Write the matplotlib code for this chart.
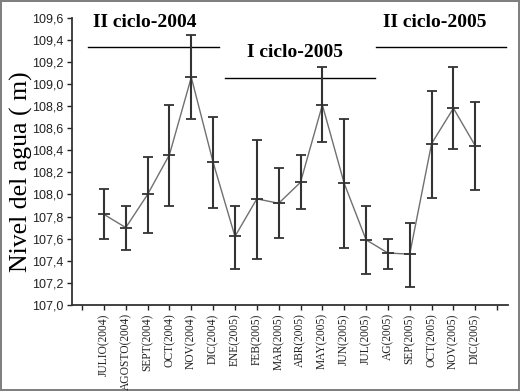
import matplotlib
matplotlib.use("Agg")
import matplotlib.pyplot as plt
import numpy as np

months = ["JULIO(2004)", "AGOSTO(2004)", "SEPT(2004)", "OCT(2004)", "NOV(2004)", "DIC(2004)",
          "ENE(2005)", "FEB(2005)", "MAR(2005)", "ABR(2005)", "MAY(2005)", "JUN(2005)",
          "JUL(2005)", "AG(2005)", "SEP(2005)", "OCT(2005)", "NOV(2005)", "DIC(2005)"]
mean = [107.82, 107.70, 108.00, 108.36, 109.06, 108.29,
        107.62, 107.96, 107.92, 108.11, 108.81, 108.10,
        107.59, 107.47, 107.46, 108.46, 108.78, 108.44]
upper = [108.05, 107.90, 108.34, 108.81, 109.44, 108.70,
         107.90, 108.49, 108.24, 108.36, 109.15, 108.68,
         107.90, 107.60, 107.74, 108.94, 109.15, 108.84]
lower = [107.60, 107.50, 107.65, 107.90, 108.68, 107.88,
         107.33, 107.42, 107.61, 107.87, 108.47, 107.52,
         107.28, 107.33, 107.16, 107.97, 108.41, 108.04]
cycles = ["II ciclo-2004", "I ciclo-2005", "II ciclo-2005"]
yticks = [107.0, 107.2, 107.4, 107.6, 107.8, 108.0, 108.2, 108.4, 108.6, 108.8,
          109.0, 109.2, 109.4, 109.6]

x = np.arange(len(months))
m = np.array(mean)
err = [m - np.array(lower), np.array(upper) - m]

fig = plt.figure(figsize=(5.2, 3.91), dpi=100)
fig.patch.set_edgecolor("#808080")
fig.patch.set_linewidth(1.5)
ax = fig.add_axes([0.1385, 0.22, 0.977 - 0.1385, 0.955 - 0.22])

ax.plot(x, m, color="#707070", lw=1.0, zorder=2)
ax.errorbar(x, m, yerr=err, fmt="none", ecolor="#333333", elinewidth=1.5,
            capsize=3.5, capthick=1.3, zorder=3)
ax.plot(x, m, ls="none", marker="_", ms=8, mew=1.3, color="#333333", zorder=4)

ax.set_xlim(-1.46, 18.5)
ax.set_ylim(107.0, 109.6)
ax.set_xticks(np.arange(-1, 19))
ax.set_xticklabels([""] + months + [""], rotation=90, family="Liberation Serif", fontsize=8.3)
ax.set_yticks(yticks)
ax.set_yticklabels([f"{v:.1f}".replace(".", ",") for v in yticks],
                   family="Liberation Sans", fontsize=9)
ax.tick_params(direction="out", length=3.5, width=1, colors="#222222", pad=2.5)
for s in ["top", "right"]:
    ax.spines[s].set_visible(False)
for s in ["left", "bottom"]:
    ax.spines[s].set_color("#333333")
    ax.spines[s].set_linewidth(1.3)

ax.set_ylabel("Nivel del agua ( m)", family="Liberation Serif", fontsize=18.5)
ax.yaxis.set_label_coords(-0.09, 0.463)

# cycle annotations
ax.plot([-0.73, 5.25], [109.335, 109.335], color="black", lw=1, clip_on=False)
ax.plot([5.55, 12.4], [109.05, 109.05], color="black", lw=1, clip_on=False)
ax.plot([12.45, 18.4], [109.335, 109.335], color="black", lw=1, clip_on=False)
tkw = dict(family="Liberation Serif", fontweight="bold", fontsize=14, ha="center", va="center")
ax.text(1.85, 109.56, cycles[0], **tkw)
ax.text(8.75, 109.28, cycles[1], **tkw)
ax.text(15.15, 109.56, cycles[2], **tkw)

fig.savefig("out.png", dpi=100)
